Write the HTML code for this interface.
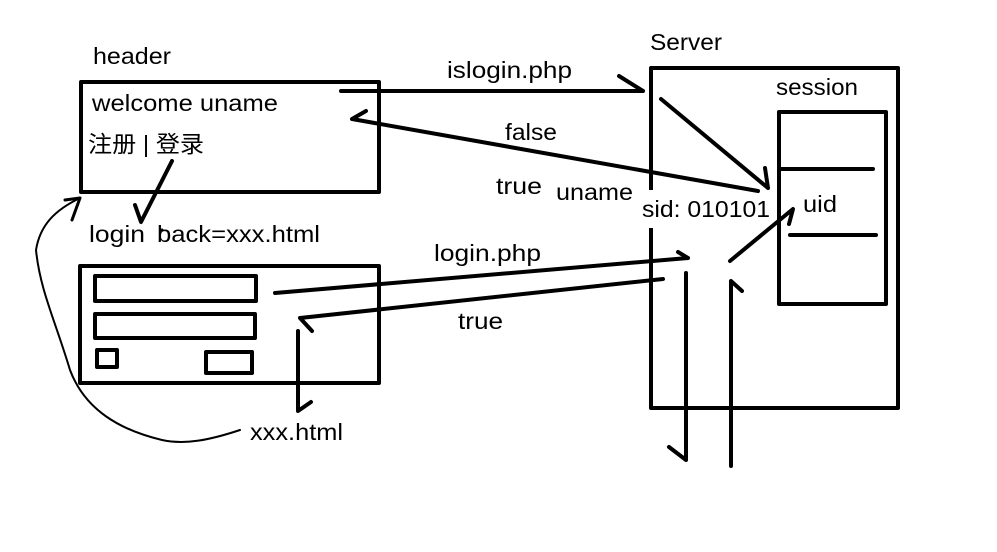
<!DOCTYPE html>
<html><head><meta charset="utf-8"><style>
html,body{margin:0;padding:0;background:#fff;}
svg{display:block;}
text{font-family:"Liberation Sans","Noto Sans CJK SC",sans-serif;font-size:23px;fill:#000;}
</style></head><body>
<svg width="997" height="552" viewBox="0 0 997 552" xmlns="http://www.w3.org/2000/svg">
<g fill="none" stroke="#000" stroke-width="4" stroke-linecap="round" stroke-linejoin="round">
<rect x="81" y="82" width="298" height="110" stroke-linecap="butt"/>
<rect x="80" y="266" width="299" height="117" stroke-linecap="butt"/>
<rect x="95" y="276" width="161" height="25" stroke-linecap="butt"/>
<rect x="95" y="314" width="160" height="24" stroke-linecap="butt"/>
<rect x="97" y="350" width="20" height="17" stroke-linecap="butt"/>
<rect x="206" y="352" width="46" height="21" stroke-linecap="butt"/>
<path d="M651 190 V68 H898 V408 H651 V228" stroke-linecap="butt"/>
<rect x="779" y="112" width="107" height="192" stroke-linecap="butt"/>
<path d="M779 169 H873 M790 235 H876"/>
<path d="M341 91 H643 M619 76 L643 91"/>
<path d="M661 99 L768 188 M765 168 L768 188"/>
<path d="M758 191 L352 119 L366 111"/>
<path d="M275 293 L688 258 M678 252 L688 258"/>
<path d="M663 279 L300 318 L312 331"/>
<path d="M730 261 L793 209 L789 224"/>
<path d="M686 273 V460 L669 447"/>
<path d="M731 466 V281 L742 291"/>
<path d="M298 331 V411 L311 402"/>
<path d="M172 161 L141 222 L135 205"/>
<path d="M80 198 L72 220 M65 200 L80 198" stroke-width="3"/>
<path d="M240 430 C210 440 185 445 162 440 C120 430 85 410 70 370 C55 320 40 290 36 250 C40 225 55 210 80 198" stroke-width="2"/>
</g>
<text x="93" y="64" textLength="78" lengthAdjust="spacingAndGlyphs">header</text>
<text x="92" y="111" textLength="186" lengthAdjust="spacingAndGlyphs">welcome uname</text>
<text x="88" y="152" textLength="116" lengthAdjust="spacingAndGlyphs">注册 | 登录</text>
<text x="89" y="242" textLength="56" lengthAdjust="spacingAndGlyphs">login</text>
<text x="157" y="242" textLength="163" lengthAdjust="spacingAndGlyphs">back=xxx.html</text>
<circle cx="162" cy="230" r="1.5" fill="#000"/>
<text x="250" y="440" textLength="93" lengthAdjust="spacingAndGlyphs">xxx.html</text>
<text x="447" y="78" textLength="125" lengthAdjust="spacingAndGlyphs">islogin.php</text>
<text x="505" y="140" textLength="52" lengthAdjust="spacingAndGlyphs">false</text>
<text x="496" y="194" textLength="46" lengthAdjust="spacingAndGlyphs">true</text>
<text x="556" y="200" textLength="77" lengthAdjust="spacingAndGlyphs">uname</text>
<text x="642" y="217" textLength="128" lengthAdjust="spacingAndGlyphs">sid: 010101</text>
<text x="803" y="212" textLength="34" lengthAdjust="spacingAndGlyphs">uid</text>
<text x="776" y="95" textLength="82" lengthAdjust="spacingAndGlyphs">session</text>
<text x="650" y="50" textLength="72" lengthAdjust="spacingAndGlyphs">Server</text>
<text x="434" y="261" textLength="107" lengthAdjust="spacingAndGlyphs">login.php</text>
<text x="458" y="329" textLength="45" lengthAdjust="spacingAndGlyphs">true</text>
</svg>
</body></html>
